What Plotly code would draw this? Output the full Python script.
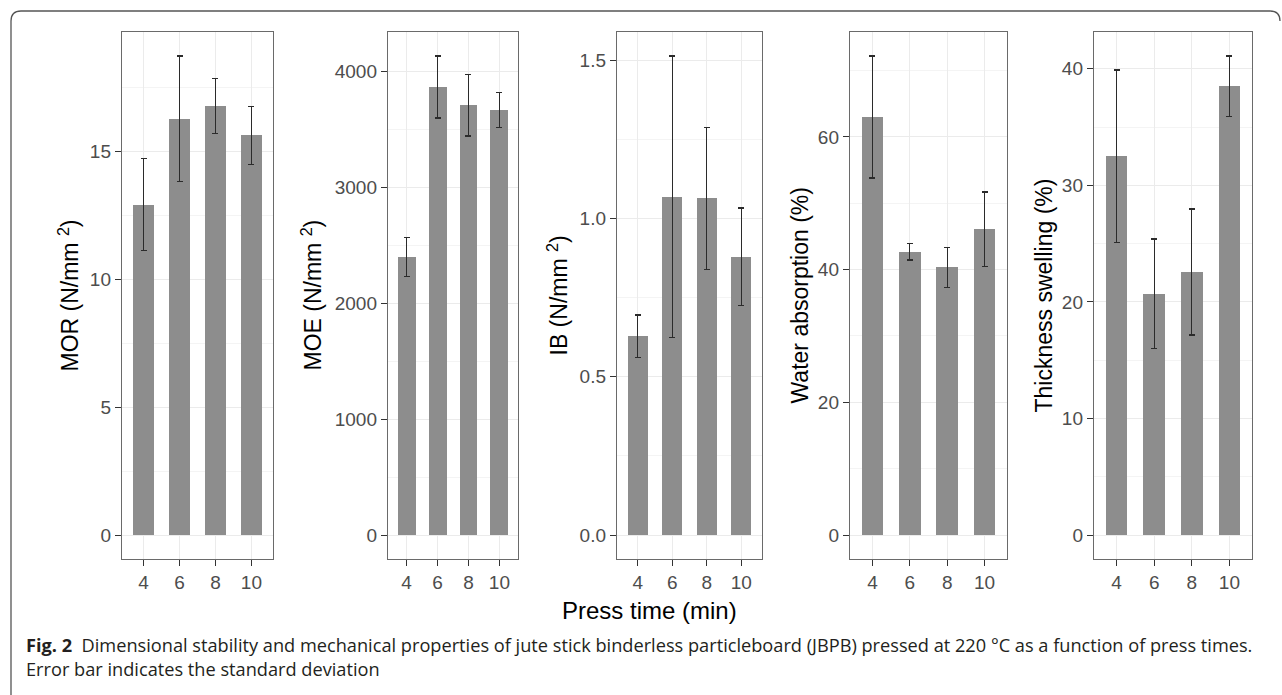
import plotly.graph_objects as go

W, H = 1282, 695

press_time = ["4", "6", "8", "10"]
mor_mean = [12.93, 16.30, 16.80, 15.64]
mor_sd = [1.80, 2.45, 1.08, 1.13]
moe_mean = [2400, 3865, 3706, 3665]
moe_sd = [168, 267, 265, 150]
ib_mean = [0.628, 1.068, 1.063, 0.879]
ib_sd = [0.067, 0.445, 0.224, 0.154]
wa_mean = [63.0, 42.7, 40.35, 46.1]
wa_sd = [9.2, 1.25, 3.0, 5.6]
ts_mean = [32.5, 20.7, 22.56, 38.5]
ts_sd = [7.4, 4.7, 5.4, 2.6]

y_titles = ["MOR (N/mm <sup>2</sup>)", "MOE (N/mm <sup>2</sup>)", "IB (N/mm <sup>2</sup>)",
            "Water absorption (%)", "Thickness swelling (%)"]
y_dticks = [5, 1000, 0.5, 20, 10]
y_formats = ["d", "d", ".1f", "d", "d"]
x_title = "Press time (min)"
caption_bold = "Fig. 2"
caption_text = ("Dimensional stability and mechanical properties of jute stick binderless particleboard "
                "(JBPB) pressed at 220 °C as a function of press times.")
caption_text2 = "Error bar indicates the standard deviation"

means = [mor_mean, moe_mean, ib_mean, wa_mean, ts_mean]
sds = [mor_sd, moe_sd, ib_sd, wa_sd, ts_sd]

# layout (pixel positions of the panels)
panel_px = [(122, 273), (388, 518), (617, 762), (850, 1007), (1094, 1252)]
panel_top, panel_bot = 32, 559
title_x_px = [68, 311, 557, 799, 1043]

def px(x):
    return x / W

def py(y):
    return 1 - y / H

fig = go.Figure()
font_fam = "Liberation Sans, Arial, sans-serif"

for i in range(5):
    ax = "" if i == 0 else str(i + 1)
    fig.add_trace(go.Bar(
        x=press_time, y=means[i],
        error_y=dict(type="data", array=sds[i], color="#2b2b2b", thickness=1.3, width=3),
        marker=dict(color="#8d8d8d", line=dict(width=0)),
        width=0.58,
        xaxis="x" + ax, yaxis="y" + ax,
        showlegend=False,
    ))
    ymax = max(m + s for m, s in zip(means[i], sds[i]))
    yr = [-0.05 * ymax, 1.05 * ymax]
    x0, x1 = panel_px[i]
    fig.layout["xaxis" + ax] = dict(
        domain=[px(x0), px(x1)], anchor="y" + ax,
        type="category", range=[-0.6, 3.6],
        showgrid=True, gridcolor="#ebebeb", gridwidth=1,
        showline=True, linecolor="#6a6a6a", linewidth=1.4, mirror=True,
        ticks="outside", ticklen=6, tickcolor="#333333", tickwidth=1.3,
        tickfont=dict(family=font_fam, size=19, color="#4d4d4d"),
        fixedrange=True,
    )
    fig.layout["yaxis" + ax] = dict(
        domain=[py(panel_bot), py(panel_top)], anchor="x" + ax,
        range=yr, dtick=y_dticks[i], tick0=0, tickformat=y_formats[i],
        showgrid=True, gridcolor="#ebebeb", gridwidth=1,
        minor=dict(dtick=y_dticks[i] / 2, tick0=0, showgrid=True, gridcolor="#f4f4f4", gridwidth=0.8),
        zeroline=False,
        showline=True, linecolor="#6a6a6a", linewidth=1.4, mirror=True,
        ticks="outside", ticklen=6, tickcolor="#333333", tickwidth=1.3,
        tickfont=dict(family=font_fam, size=19, color="#4d4d4d"),
        fixedrange=True,
    )

annotations = []
for i in range(5):
    annotations.append(dict(
        x=px(title_x_px[i]), y=py((panel_top + panel_bot) / 2), xref="paper", yref="paper",
        text=y_titles[i], textangle=-90, showarrow=False,
        xanchor="center", yanchor="middle",
        font=dict(family=font_fam, size=23, color="#000000"),
    ))

annotations.append(dict(
    x=px(650), y=py(610), xref="paper", yref="paper", text=x_title, showarrow=False,
    xanchor="center", yanchor="middle",
    font=dict(family=font_fam, size=24, color="#000000"),
))

annotations.append(dict(
    x=px(24), y=py(657), xref="paper", yref="paper",
    text="<b>" + caption_bold + "</b>  " + caption_text + "<br>" + caption_text2,
    showarrow=False, xanchor="left", yanchor="middle", align="left",
    font=dict(family="Open Sans, Noto Sans, sans-serif", size=18.2, color="#231f20"),
))

# outer rounded frame (top and left edge)
r = 10
frame = (f"M {px(11)},{py(H)} L {px(11)},{py(11 + r)} "
         f"Q {px(11)},{py(11)} {px(11 + r)},{py(11)} "
         f"L {px(1270)},{py(11)} Q {px(1280)},{py(11)} {px(1280)},{py(11 + r)}")
shapes = [dict(type="path", path=frame, xref="paper", yref="paper",
               line=dict(color="#555555", width=1.3))]

fig.update_layout(
    width=W, height=H,
    margin=dict(l=0, r=0, t=0, b=0),
    paper_bgcolor="white", plot_bgcolor="white",
    annotations=annotations, shapes=shapes,
    bargap=0,
)

fig.write_html("out.html",
               config={"displayModeBar": False},
               post_script="document.body.style.margin='0px';document.body.style.overflow='hidden';")
